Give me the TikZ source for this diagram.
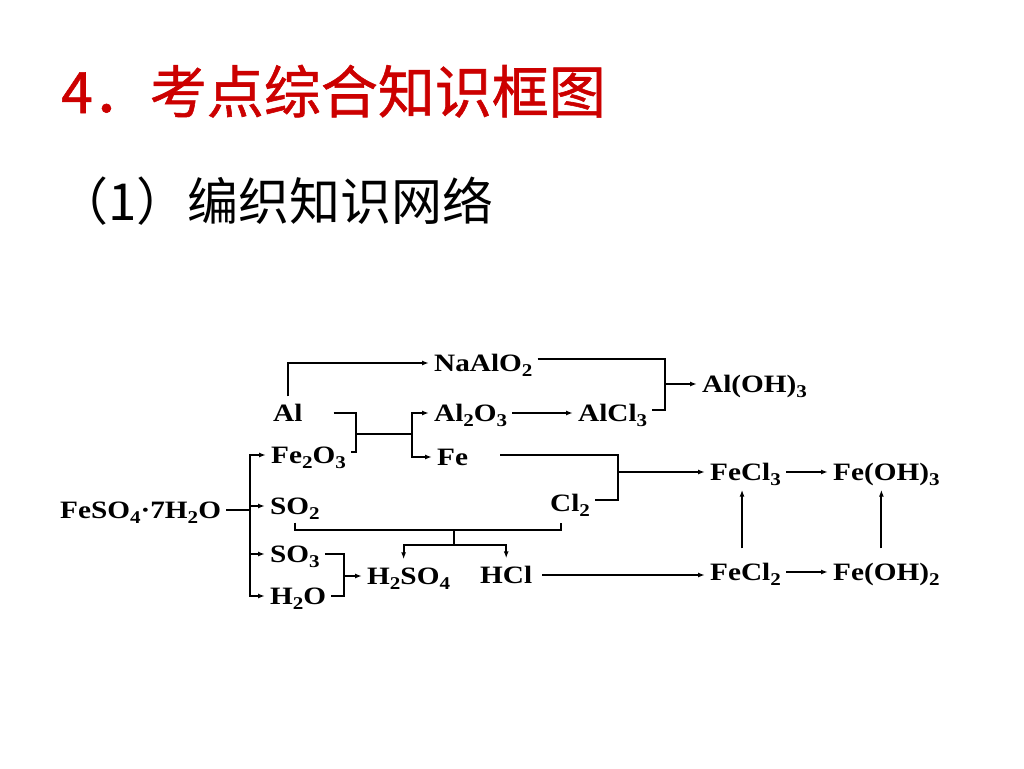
\documentclass[tikz,border=0pt]{standalone}
\usepackage{fontspec}
\usepackage[svgnames]{xcolor}
\usetikzlibrary{arrows.meta}
\newfontfamily\cjk{Noto Sans CJK SC}
\newfontfamily\cjkhead[FakeBold=1]{Noto Sans CJK SC}
\newfontfamily\chemfont[FakeStretch=1.17]{Liberation Serif}
\newcommand{\chsub}[1]{\raisebox{-5pt}{\fontsize{18pt}{18pt}\selectfont #1}}
\definecolor{titlered}{RGB}{204,0,0}

\begin{document}
\begin{tikzpicture}[x=1pt,y=-1pt,
	chem/.style={font=\chemfont\bfseries\fontsize{25pt}{25pt}\selectfont, inner xsep=5pt, inner ysep=0pt, text height=17pt, text depth=0pt, anchor=west},
	link/.style={line width=1.8pt},
	tip/.style={link,-{Latex[length=7pt,width=5pt]}}]
	\useasboundingbox[fill=white] (0,0) rectangle (1024,768);
	% headings
	\node[anchor=base west, inner sep=0pt, text=titlered, font=\cjkhead\fontsize{57pt}{57pt}\selectfont] (title) at (61,113) {4．考点综合知识框图};
	\node[anchor=base west, inner sep=0pt, font=\cjk\fontsize{51pt}{51pt}\selectfont] (subtitle) at (57,220) {（1）编织知识网络};
	% substances
	\node[chem] (NaAlO) at (429,363) {NaAlO\chsub{2}};
	\node[chem] (AlOH) at (697,384) {Al(OH)\chsub{3}};
	\node[chem] (Al) at (268,413) {Al};
	\node[chem] (AlO) at (429,413) {Al\chsub{2}O\chsub{3}};
	\node[chem] (AlCl) at (573,413) {AlCl\chsub{3}};
	\node[chem] (FeO) at (266,455) {Fe\chsub{2}O\chsub{3}};
	\node[chem] (Fe) at (432,457) {Fe};
	\node[chem] (FeSO) at (55,510) {FeSO\chsub{4}·7H\chsub{2}O};
	\node[chem] (SOii) at (265,506) {SO\chsub{2}};
	\node[chem] (Cl) at (545,503) {Cl\chsub{2}};
	\node[chem] (SOiii) at (265,554) {SO\chsub{3}};
	\node[chem] (HSO) at (362,576) {H\chsub{2}SO\chsub{4}};
	\node[chem] (HCl) at (475,575) {HCl};
	\node[chem] (HO) at (265,596) {H\chsub{2}O};
	\node[chem] (FeCliii) at (705,472) {FeCl\chsub{3}};
	\node[chem] (FeOHiii) at (828,472) {Fe(OH)\chsub{3}};
	\node[chem] (FeClii) at (705,572) {FeCl\chsub{2}};
	\node[chem] (FeOHii) at (828,572) {Fe(OH)\chsub{2}};
	% junctions
	\coordinate (m1) at (665,384);
	\coordinate (m2) at (356,434);
	\coordinate (m3) at (412,434);
	\coordinate (m4) at (618,472);
	\coordinate (m5) at (250,510);
	\coordinate (m6) at (454,530);
	\coordinate (m7) at (454,545);
	\coordinate (m8) at (344,576);
	% aluminium
	\draw[tip,shorten <=8pt] (Al.north) |- (NaAlO.west);
	\draw[link] ([yshift=4pt]NaAlO.east) -| (m1) |- ([yshift=3pt]AlCl.east);
	\draw[tip] (m1) -- (AlOH.west);
	\draw[link] ([xshift=26pt]Al.east) -| (m2) |- ([yshift=3pt]FeO.east);
	\draw[link] (m2) -- (m3);
	\draw[tip] (m3) |- (AlO.west);
	\draw[tip] (m3) |- (Fe.west);
	\draw[tip] (AlO.east) -- (AlCl.west);
	% iron
	\draw[link] ([xshift=27pt,yshift=2pt]Fe.east) -| (m4) |- ([yshift=3pt]Cl.east);
	\draw[tip] (m4) -- (FeCliii.west);
	\draw[link] (FeSO.east) -- (m5);
	\draw[tip] (m5) |- (FeO.west);
	\draw[tip] (m5) |- (SOii.west);
	\draw[tip] (m5) |- (SOiii.west);
	\draw[tip] (m5) |- (HO.west);
	% sulfur and chlorine
	\draw[link] ([yshift=-8pt]SOii.south) |- (m6) -| ([xshift=-9pt,yshift=-11pt]Cl.south);
	\draw[link] (m6) -- (m7);
	\draw[tip,shorten >=8pt] (m7) -| ([xshift=-5pt]HSO.north);
	\draw[tip,shorten >=8pt] (m7) -| (HCl.north);
	\draw[link] (SOiii.east) -| (m8) |- (HO.east);
	\draw[tip] (m8) -- (HSO.west);
	\draw[tip] ([xshift=5pt]HCl.east) -- (HCl.east -| FeClii.west);
	\draw[tip] (FeCliii.east) -- (FeOHiii.west);
	\draw[tip] (FeClii.east) -- (FeOHii.west);
	\draw[tip,shorten <=15pt,shorten >=9pt] ([xshift=-3.5pt]FeClii.north) -- ([xshift=-3.5pt]FeCliii.south);
	\draw[tip,shorten <=15pt,shorten >=9pt] ([xshift=-5pt]FeOHii.north) -- ([xshift=-5pt]FeOHiii.south);
\end{tikzpicture}
\end{document}
